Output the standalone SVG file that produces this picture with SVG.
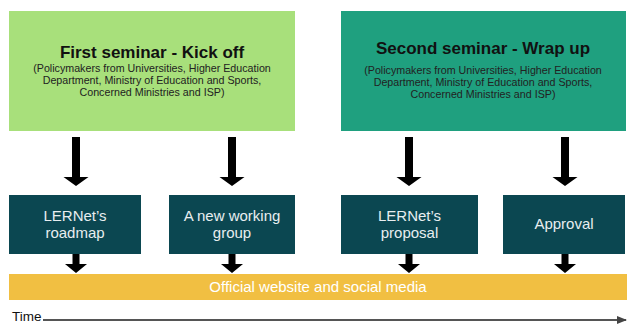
<svg xmlns="http://www.w3.org/2000/svg" width="627" height="324" viewBox="0 0 627 324">
<defs>
<style>
text{font-family:"Liberation Sans",Arial,sans-serif;text-anchor:middle}
.title{font-size:17px;font-weight:bold;fill:#111}
.sub{font-size:10.7px;fill:#222}
.dark{fill:#0b4751}
.lbl{font-size:15px;fill:#e8eef0}
.arr{fill:#000}
</style>
<marker id="tm" markerWidth="10" markerHeight="8" refX="9" refY="4" orient="auto" markerUnits="userSpaceOnUse">
<path d="M0,0 L10,4 L0,8 Z" fill="#444"/>
</marker>
</defs>
<rect width="627" height="324" fill="#fff"/>
<g id="seminar1">
<rect x="9" y="11" width="286" height="120" fill="#a8e07b"/>
<text class="title" x="152" y="58">First seminar - Kick off</text>
<text class="sub" x="152" y="72">(Policymakers from Universities, Higher Education</text>
<text class="sub" x="152" y="84">Department, Ministry of Education and Sports,</text>
<text class="sub" x="152" y="96">Concerned Ministries and ISP)</text>
</g>
<g id="seminar2">
<rect x="341" y="11" width="285" height="120" fill="#1fa07f"/>
<text class="title" x="483" y="54">Second seminar - Wrap up</text>
<text class="sub" x="483" y="74">(Policymakers from Universities, Higher Education</text>
<text class="sub" x="483" y="86">Department, Ministry of Education and Sports,</text>
<text class="sub" x="483" y="98">Concerned Ministries and ISP)</text>
</g>
<g id="roadmap">
<rect class="dark" x="9" y="195" width="132" height="59"/>
<text class="lbl" x="75" y="221">LERNet’s</text>
<text class="lbl" x="75" y="238">roadmap</text>
</g>
<g id="workinggroup">
<rect class="dark" x="169" y="195" width="126" height="59"/>
<text class="lbl" x="232" y="221">A new working</text>
<text class="lbl" x="232" y="238">group</text>
</g>
<g id="proposal">
<rect class="dark" x="341" y="195" width="137" height="59"/>
<text class="lbl" x="409.5" y="221">LERNet’s</text>
<text class="lbl" x="409.5" y="238">proposal</text>
</g>
<g id="approval">
<rect class="dark" x="503" y="195" width="122" height="59"/>
<text class="lbl" x="564" y="229">Approval</text>
</g>
<g id="media">
<rect x="9" y="274" width="618" height="26" fill="#f1bf42"/>
<text x="318" y="292" style="font-size:15px;fill:#fff">Official website and social media</text>
</g>
<g id="connectors">
<path class="arr" d="M72,137 h8 v40 h8.5 l-12.5,9 l-12.5,-9 h8.5 Z"/>
<path class="arr" d="M228,137 h8 v40 h8.5 l-12.5,9 l-12.5,-9 h8.5 Z"/>
<path class="arr" d="M405,137 h8 v40 h8.5 l-12.5,9 l-12.5,-9 h8.5 Z"/>
<path class="arr" d="M561,137 h8 v40 h8.5 l-12.5,9 l-12.5,-9 h8.5 Z"/>
<path class="arr" d="M72.5,254 h7 v10 h7.5 l-11,9 l-11,-9 h7.5 Z"/>
<path class="arr" d="M228.5,254 h7 v10 h7.5 l-11,9 l-11,-9 h7.5 Z"/>
<path class="arr" d="M405.5,254 h7 v10 h7.5 l-11,9 l-11,-9 h7.5 Z"/>
<path class="arr" d="M561.5,254 h7 v10 h7.5 l-11,9 l-11,-9 h7.5 Z"/>
</g>
<g id="timeline">
<text x="12" y="321" style="font-size:13.5px;fill:#111;text-anchor:start">Time</text>
<line x1="43" y1="320" x2="626" y2="320" stroke="#555" stroke-width="2" marker-end="url(#tm)"/>
</g>
</svg>
